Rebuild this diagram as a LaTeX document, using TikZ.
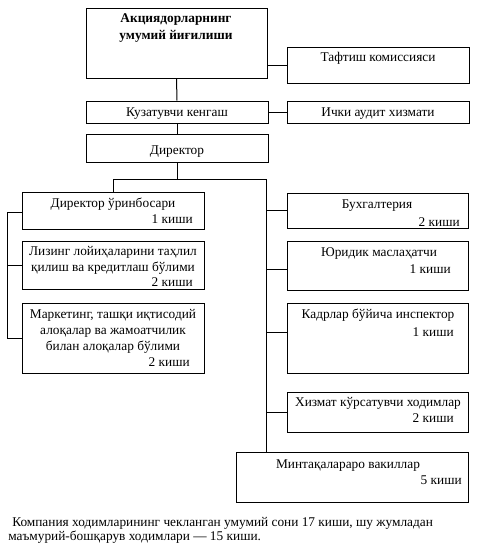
\documentclass[tikz,border=0pt]{standalone}
\usepackage{fontspec}
\setmainfont{Liberation Serif}
\usetikzlibrary{fit,calc}
\begin{document}
\begin{tikzpicture}[x=0.75pt,y=-0.75pt,
  box/.style={draw, line width=0.75pt, inner sep=0pt},
  txt/.style={inner sep=0pt, font=\fontsize{10}{12}\selectfont},
  txtb/.style={inner sep=0pt, font=\fontsize{10}{12}\selectfont\bfseries},
  ln/.style={line width=0.75pt}]
\useasboundingbox (0,0) rectangle (485,550);
% boxes
\node[box, fit={(86,8)(267,78)}] (top) {};
\node[box, fit={(287,47)(469,83)}] (taf) {};
\node[box, fit={(86,101)(268,123)}] (kuz) {};
\node[box, fit={(287,101)(469,123)}] (ich) {};
\node[box, fit={(86,134)(268,162)}] (dir) {};
\node[box, fit={(22,192)(204,229)}] (urin) {};
\node[box, fit={(22,241)(204,289)}] (lis) {};
\node[box, fit={(22,303)(204,373)}] (mark) {};
\node[box, fit={(287,193)(468,228)}] (buh) {};
\node[box, fit={(287,241)(468,290)}] (yur) {};
\node[box, fit={(287,303)(468,373)}] (kad) {};
\node[box, fit={(287,392)(468,432)}] (xiz) {};
\node[box, fit={(236,452)(468,502)}] (mint) {};
% texts
\node[txtb, anchor=base] (a1) at (176,22) {Акциядорларнинг};
\node[txtb, anchor=base] (a2) at (176,39) {умумий йиғилиши};
\node[txt, anchor=base] (b1) at (378,61) {Тафтиш комиссияси};
\node[txt, anchor=base] (c1) at (177,116) {Кузатувчи кенгаш};
\node[txt, anchor=base] (d1) at (378,116) {Ички аудит хизмати};
\node[txt, anchor=base] (e1) at (177,154) {Директор};
\node[txt, anchor=base] (f1) at (113,207) {Директор ўринбосари};
\node[txt, anchor=base east] (f2) at (193,223) {1 киши};
\node[txt, anchor=base] (g1) at (113,255) {Лизинг лойиҳаларини таҳлил};
\node[txt, anchor=base] (g2) at (113,271) {қилиш ва кредитлаш бўлими};
\node[txt, anchor=base east] (g3) at (193,286) {2 киши};
\node[txt, anchor=base] (h1) at (113,318) {Маркетинг, ташқи иқтисодий};
\node[txt, anchor=base] (h2) at (113,334) {алоқалар ва жамоатчилик};
\node[txt, anchor=base] (h3) at (113,350) {билан алоқалар бўлими};
\node[txt, anchor=base east] (h4) at (190,366) {2 киши};
\node[txt, anchor=base] (i1) at (377,208) {Бухгалтерия};
\node[txt, anchor=base east] (i2) at (460,226) {2 киши};
\node[txt, anchor=base] (j1) at (379,256) {Юридик маслаҳатчи};
\node[txt, anchor=base east] (j2) at (451,273) {1 киши};
\node[txt, anchor=base] (k1) at (378,318) {Кадрлар бўйича инспектор};
\node[txt, anchor=base east] (k2) at (454,336) {1 киши};
\node[txt, anchor=base] (l1) at (378,406) {Хизмат кўрсатувчи ходимлар};
\node[txt, anchor=base east] (l2) at (454,422) {2 киши};
\node[txt, anchor=base] (m1) at (348,468) {Минтақалараро вакиллар};
\node[txt, anchor=base east] (m2) at (462,484) {5 киши};
\node[txt, anchor=base west] (n1) at (12,526) {Компания ходимларининг чекланган умумий сони 17 киши, шу жумладан};
\node[txt, anchor=base west] (n2) at (8,540) {маъмурий-бошқарув ходимлари — 15 киши.};
% connectors
\draw[ln] (top.south) -- (kuz.north);
\draw[ln] (taf.west -| top.east) -- (taf.west);
\draw[ln] (kuz.east) -- (ich.west);
\draw[ln] (kuz.south) -- (dir.north);
\coordinate (bus) at (266,179);
\coordinate (lb) at (7,212);
\draw[ln] (dir.south) -- (dir.south |- bus);
\draw[ln] (urin.north) |- (bus) -- (bus |- mint.north);
\draw[ln] (buh.west) -- (buh.west -| bus);
\draw[ln] ($(yur.west)+(0,4)$) -- ($(yur.west -| bus)+(0,4)$);
\draw[ln] ($(kad.west)+(0,-6)$) -- ($(kad.west -| bus)+(0,-6)$);
\draw[ln] (xiz.west) -- (xiz.west -| bus);
\draw[ln] ($(urin.west)+(0,1.5)$) -| (mark.west -| lb) -- (mark.west);
\draw[ln] (lis.west) -- (lis.west -| lb);
\end{tikzpicture}
\end{document}
